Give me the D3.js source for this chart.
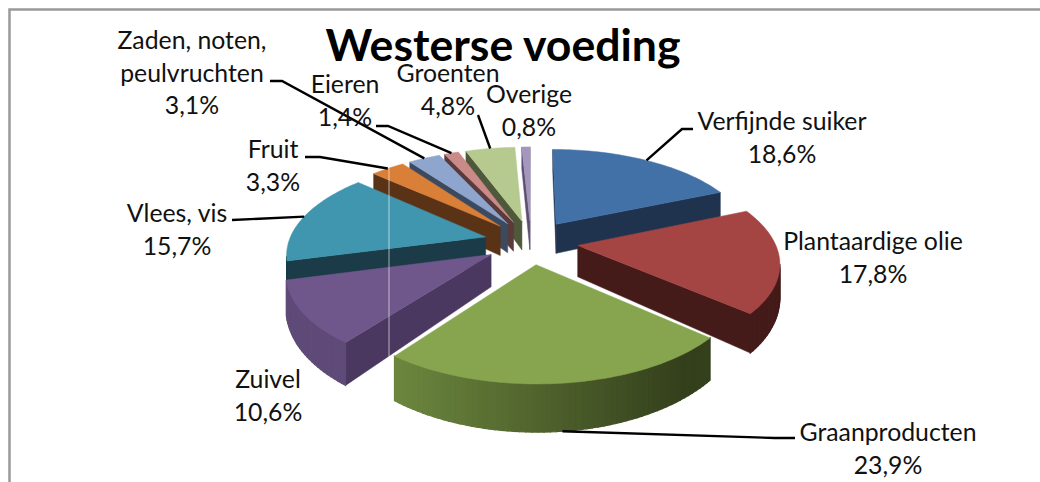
<!DOCTYPE html>
<html>
<head>
<meta charset="utf-8">
<script src="https://cdn.jsdelivr.net/npm/d3@7"></script>
<style>
html,body{margin:0;padding:0;background:#fff;overflow:hidden}
text{font-family:Lato,"Open Sans",sans-serif;fill:#111}
</style>
</head>
<body>
<svg id="chart" width="1040" height="482"></svg>
<script>
var categories = ['Verfijnde suiker','Plantaardige olie','Graanproducten','Zuivel','Vlees, vis','Fruit','Zaden, noten, peulvruchten','Eieren','Groenten','Overige'];
var shares = [18.6,17.8,23.9,10.6,15.7,3.3,3.1,1.4,4.8,0.8];
var shareLabels = ['18,6%','17,8%','23,9%','10,6%','15,7%','3,3%','3,1%','1,4%','4,8%','0,8%'];

var topColors = ['#4271a8','#a54543','#87a44f','#6f578c','#3f96ae','#d97f37','#8ea5cd','#ca8a88','#b6ca90','#a596bd'];
var wallColors = ['#1f334f','#441b19','#36421e','#4a3860','#1a3b47','#5a3317','#3c4a60','#5a3a3a','#4e583a','#5c5070'];
var rimLeft = ['#1f334f','#441b19','#6f8a40','#5f4a78','#1a3b47','#5a3317','#3c4a60','#5a3a3a','#4e583a','#5c5070'];
var rimRight = ['#1f334f','#441b19','#34401c','#5f4a78','#1a3b47','#5a3317','#3c4a60','#5a3a3a','#4e583a','#5c5070'];

var labelX = [782,873,888,268,177,273,192,345,448,529];
var labelY = [130,250,441,388,222,158,49,93,82,103];
var leaderStart = [[693,129],null,[795,438],null,[232,220],[305,157],[270,81],[376,126],[478,115],null];
var leaderElbow = [[682,129],null,[775,438],null,null,[320,157],[282,81],[388,126],null,null];

var cx = 531, cy = 242;
var radius = 197, explode = 47, tilt = 0.467, persp = 0.16, depth = 31;
var drawOrder = [9,8,7,6,5,0,4,1,3,2];

var svg = d3.select('#chart');

svg.append('path')
	.attr('d','M9.5,482V9.5H1040')
	.attr('fill','none')
	.attr('stroke','#999')
	.attr('stroke-width',2.5);

// world point on the disc -> screen, z=0 top face, z=1 bottom face
function project(x,y,z){
	var s = 1/(1 - persp*y/radius);
	return [cx + x*s, cy + y*tilt*s + z*depth*s*s];
}

function rimPoint(slice,a,z){
	var mid = (slice.startAngle+slice.endAngle)/2;
	var ex = explode*Math.sin(mid), ey = -explode*Math.cos(mid);
	return project(ex + radius*Math.sin(a), ey - radius*Math.cos(a), z);
}

function apexPoint(slice,z){
	var mid = (slice.startAngle+slice.endAngle)/2;
	return project(explode*Math.sin(mid), -explode*Math.cos(mid), z);
}

function shoelace(p){
	var t = 0;
	p.forEach(function(a,i){
		var b = p[(i+1)%p.length];
		t += a[0]*b[1]-b[0]*a[1];
	});
	return t;
}

var slices = d3.pie().sort(null).value(function(d){return d;})(shares);
var line = d3.line().curve(d3.curveLinearClosed);
var group = svg.append('g');

function face(pts,color,w){
	group.append('path').attr('d',line(pts)).attr('fill',color).attr('stroke',color).attr('stroke-width',w);
}

drawOrder.forEach(function(i){
	var s = slices[i];
	var steps = Math.max(4,Math.round((s.endAngle-s.startAngle)*40));
	var angles = d3.range(steps+1).map(function(k){return s.startAngle+(s.endAngle-s.startAngle)*k/steps;});
	var rimColor = d3.scaleLinear().domain([cx+150,cx-150]).range([rimRight[i],rimLeft[i]]).clamp(true);

	// walls from the apex to the rim, only those facing us
	var startWall = [apexPoint(s,0),rimPoint(s,s.startAngle,0),rimPoint(s,s.startAngle,1),apexPoint(s,1)];
	var endWall = [rimPoint(s,s.endAngle,0),apexPoint(s,0),apexPoint(s,1),rimPoint(s,s.endAngle,1)];
	if(shoelace(startWall)<0) face(startWall,wallColors[i],0.5);
	if(shoelace(endWall)<0) face(endWall,wallColors[i],0.5);

	for(var k=0;k<steps;k++){
		var q = [rimPoint(s,angles[k],0),rimPoint(s,angles[k+1],0),rimPoint(s,angles[k+1],1),rimPoint(s,angles[k],1)];
		if(shoelace(q)<0) face(q,rimColor((q[0][0]+q[1][0])/2),1.2);
	}

	var top = [apexPoint(s,0)].concat(angles.map(function(a){return rimPoint(s,a,0);}));
	face(top,topColors[i],0.5);
});

// thin light seam that runs through the reference picture
svg.append('line')
	.attr('x1',389).attr('x2',389).attr('y1',166).attr('y2',362)
	.attr('stroke','#fff').attr('stroke-opacity',0.6).attr('stroke-width',1);

// leader lines
var leader = d3.line();
slices.forEach(function(s,i){
	if(!leaderStart[i]) return;
	var mid = (s.startAngle+s.endAngle)/2;
	var pts = [leaderStart[i]];
	if(leaderElbow[i]) pts.push(leaderElbow[i]);
	pts.push(rimPoint(s,mid,i==2 ? 1 : 0));
	svg.append('path').attr('d',leader(pts)).attr('fill','none').attr('stroke','#000').attr('stroke-width',2.4);
});

// labels
function labelLines(i){
	if(i==6) return ['Zaden, noten,','peulvruchten',shareLabels[i]];
	return [categories[i],shareLabels[i]];
}
var labels = svg.append('g').selectAll('text').data(categories).enter().append('text')
	.attr('text-anchor','middle')
	.attr('font-size',24.8);
labels.each(function(d,i){
	d3.select(this).selectAll('tspan').data(labelLines(i)).enter().append('tspan')
		.attr('x',labelX[i])
		.attr('y',function(t,k){return labelY[i]+k*32.5;})
		.text(function(t){return t;});
});

svg.append('text')
	.attr('x',503).attr('y',61)
	.attr('text-anchor','middle')
	.attr('font-size',44.6)
	.attr('font-weight',700)
	.style('fill','#000')
	.text('Westerse voeding');
</script>
</body>
</html>
